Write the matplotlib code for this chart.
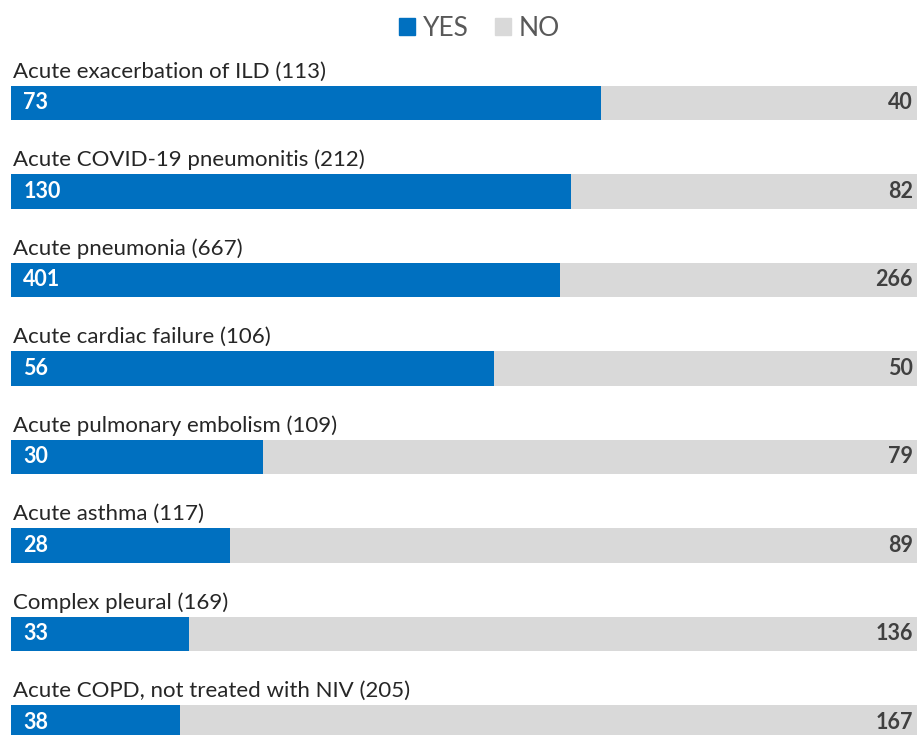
import matplotlib
matplotlib.use("Agg")
import matplotlib.pyplot as plt
from matplotlib.patches import Patch

categories = [
    "Acute exacerbation of ILD",
    "Acute COVID-19 pneumonitis",
    "Acute pneumonia",
    "Acute cardiac failure",
    "Acute pulmonary embolism",
    "Acute asthma",
    "Complex pleural",
    "Acute COPD, not treated with NIV",
]
yes_counts = [73, 130, 401, 56, 30, 28, 33, 38]
no_counts = [40, 82, 266, 50, 79, 89, 136, 167]

BLUE = "#0070C0"
GREY = "#D9D9D9"
FONT = "Lato"

plt.rcParams["font.family"] = [FONT, "DejaVu Sans"]

fig = plt.figure(figsize=(9.17, 7.35), dpi=100)
ax = fig.add_axes([11 / 917, 0, 914 / 917, 1])

bar_h = 0.395
for i, (cat, y, n) in enumerate(zip(categories, yes_counts, no_counts)):
    total = y + n
    fy = y / total
    fn = n / total
    ax.barh(i, fy, height=bar_h, left=0, color=BLUE)
    ax.barh(i, fn, height=bar_h, left=fy, color=GREY)
    ax.text(0.002, i - bar_h / 2 - 0.09, f"{cat} ({total})", ha="left",
            va="baseline", fontsize=16, color="#262626")
    ax.text(0.0135, i, str(y), ha="left", va="center", fontsize=15.5,
            fontweight="bold", color="white")
    ax.text(0.987, i, str(n), ha="right", va="center", fontsize=15.5,
            fontweight="bold", color="#404040")

ax.set_xlim(0, 1)
ax.set_ylim((735 - 103) / 88.5, -103 / 88.5)
ax.axis("off")

handles = [Patch(color=BLUE, label="YES"), Patch(color=GREY, label="NO")]
fig.legend(handles=handles, loc="center", bbox_to_anchor=(0.523, 1 - 28 / 735),
           ncol=2, frameon=False, fontsize=19, handlelength=0.6,
           handleheight=0.6, handletextpad=0.3, columnspacing=1.0,
           labelcolor="#595959")

fig.savefig("out.png", dpi=100)
